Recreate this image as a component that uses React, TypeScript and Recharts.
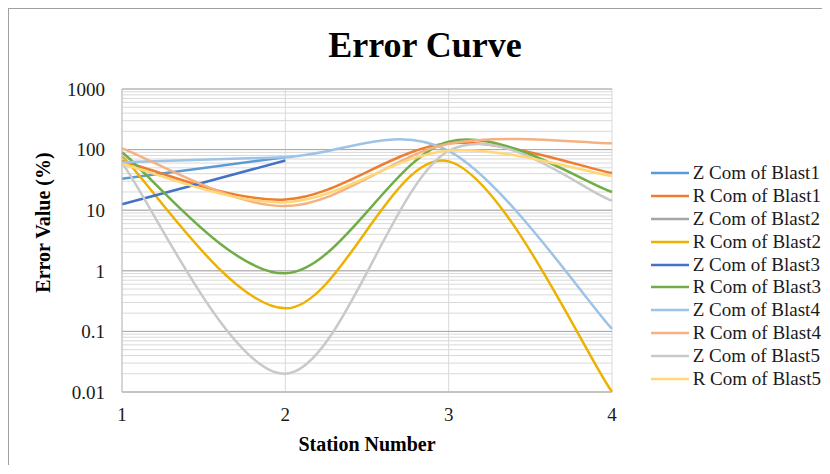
import React from 'react';
import {
  LineChart,
  Line,
  XAxis,
  YAxis,
  CartesianGrid,
  Legend,
  ReferenceLine,
  Label,
} from 'recharts';

const stations = [1, 2, 3, 4];
const zBlast1 = [33, 75, null, null];
const rBlast1 = [65, 15, 127, 41];
const zBlast2 = [null, null, null, null];
const rBlast2 = [78, 0.24, 64, 0.01];
const zBlast3 = [12.5, 66, null, null];
const rBlast3 = [90, 0.91, 135, 20];
const zBlast4 = [62, 75, 95, 0.11];
const rBlast4 = [105, 11.7, 125, 127];
const zBlast5 = [60, 0.02, 95, 14.4];
const rBlast5 = [58, 13.5, 96, 36.6];

const majorTicks = [0.01, 0.1, 1, 10, 100, 1000];
const allTicks = majorTicks.flatMap((m) =>
  m === 1000 ? [m] : [1, 2, 3, 4, 5, 6, 7, 8, 9].map((k) => k * m)
);

const series = [
  { key: 'z1', name: 'Z Com of Blast1', values: zBlast1, color: '#5B9BD5' },
  { key: 'r1', name: 'R Com of Blast1', values: rBlast1, color: '#ED7D31' },
  { key: 'z2', name: 'Z Com of Blast2', values: zBlast2, color: '#A5A5A5' },
  { key: 'r2', name: 'R Com of Blast2', values: rBlast2, color: '#EDB200' },
  { key: 'z3', name: 'Z Com of Blast3', values: zBlast3, color: '#4472C4' },
  { key: 'r3', name: 'R Com of Blast3', values: rBlast3, color: '#70AD47' },
  { key: 'z4', name: 'Z Com of Blast4', values: zBlast4, color: '#9DC3E6' },
  { key: 'r4', name: 'R Com of Blast4', values: rBlast4, color: '#F4B183' },
  { key: 'z5', name: 'Z Com of Blast5', values: zBlast5, color: '#C9C9C9' },
  { key: 'r5', name: 'R Com of Blast5', values: rBlast5, color: '#FFD777' },
];
const seriesOrder = series.map((s) => s.name);

const data = stations.map((s, i) => {
  const row: any = { station: s };
  series.forEach((ser) => {
    row[ser.key] = ser.values[i];
  });
  return row;
});

const FONT = 'Liberation Serif, Times New Roman, serif';

// excel-like smoothing (catmull-rom bezier)
const excelSmooth = (context: any) => {
  let pts: number[][] = [];
  return {
    areaStart() {},
    areaEnd() {},
    lineStart() {
      pts = [];
    },
    point(x: number, y: number) {
      pts.push([+x, +y]);
    },
    lineEnd() {
      const n = pts.length;
      if (!n) return;
      context.moveTo(pts[0][0], pts[0][1]);
      for (let i = 0; i < n - 1; i++) {
        const p0 = pts[Math.max(i - 1, 0)];
        const p1 = pts[i];
        const p2 = pts[i + 1];
        const p3 = pts[Math.min(i + 2, n - 1)];
        context.bezierCurveTo(
          p1[0] + (p2[0] - p0[0]) / 6,
          p1[1] + (p2[1] - p0[1]) / 6,
          p2[0] - (p3[0] - p1[0]) / 6,
          p2[1] - (p3[1] - p1[1]) / 6,
          p2[0],
          p2[1]
        );
      }
    },
  };
};

const renderLegend = (props: any) => {
  const items = [...(props.payload || [])].sort(
    (a: any, b: any) => seriesOrder.indexOf(a.value) - seriesOrder.indexOf(b.value)
  );
  return (
    <div style={{ fontFamily: FONT, fontSize: 19, color: '#1a1a1a' }}>
      {items.map((e: any) => (
        <div
          key={e.value}
          style={{ display: 'flex', alignItems: 'center', height: 22.9, whiteSpace: 'nowrap' }}
        >
          <svg width={38} height={4} style={{ display: 'block' }}>
            <line x1={0} y1={2} x2={38} y2={2} stroke={e.color} strokeWidth={2.5} />
          </svg>
          <span style={{ marginLeft: 4, fontFamily: FONT }}>{e.value}</span>
        </div>
      ))}
    </div>
  );
};

export default function App() {
  return (
    <div
      style={{
        position: 'relative',
        width: 816,
        height: 456,
        borderTop: '1px solid #a0a0a0',
        borderLeft: '1px solid #a0a0a0',
        borderRight: '1px solid #a0a0a0',
        overflow: 'hidden',
        background: '#fff',
      }}
    >
      <div
        style={{
          position: 'absolute',
          left: 416,
          top: 18,
          transform: 'translateX(-50%)',
          fontFamily: FONT,
          fontWeight: 'bold',
          fontSize: 36,
          lineHeight: '36px',
          whiteSpace: 'nowrap',
          color: '#000',
        }}
      >
        Error Curve
      </div>
      <LineChart
        width={816}
        height={456}
        data={data}
        margin={{ top: 80, right: 213, bottom: 13, left: 0 }}
      >
        <CartesianGrid stroke="#d9d9d9" />
        {majorTicks.map((v) => (
          <ReferenceLine key={v} y={v} stroke="#a6a6a6" />
        ))}
        <XAxis
          dataKey="station"
          type="number"
          domain={[1, 4]}
          ticks={stations}
          tickLine={false}
          axisLine={{ stroke: '#bfbfbf' }}
          tickSize={0}
          tickMargin={16}
          height={60}
          tick={{ fontSize: 19, fill: '#1a1a1a', fontFamily: FONT }}
        >
          <Label
            content={(p: any) => {
              const vb = p.viewBox;
              return (
                <text
                  x={vb.x + vb.width / 2}
                  y={vb.y + 52}
                  textAnchor="middle"
                  dominantBaseline="central"
                  fontFamily={FONT}
                  fontWeight="bold"
                  fontSize={20}
                  fill="#000"
                >
                  Station Number
                </text>
              );
            }}
          />
        </XAxis>
        <YAxis
          type="number"
          scale="log"
          domain={[0.01, 1000]}
          allowDataOverflow
          ticks={allTicks}
          interval={0}
          tickFormatter={(v: number) => (majorTicks.includes(v) ? String(v) : '')}
          tickLine={false}
          axisLine={{ stroke: '#bfbfbf' }}
          tickSize={0}
          tickMargin={17}
          width={113}
          tick={{ fontSize: 19, fill: '#1a1a1a', fontFamily: FONT }}
        >
          <Label
            content={(p: any) => {
              const vb = p.viewBox;
              const cx = vb.x + 34;
              const cy = vb.y + vb.height / 2 - 18;
              return (
                <text
                  x={cx}
                  y={cy}
                  transform={`rotate(-90, ${cx}, ${cy})`}
                  textAnchor="middle"
                  dominantBaseline="central"
                  fontFamily={FONT}
                  fontWeight="bold"
                  fontSize={20}
                  fill="#000"
                >
                  Error Value (%)
                </text>
              );
            }}
          />
        </YAxis>
        <Legend
          layout="vertical"
          align="center"
          verticalAlign="middle"
          wrapperStyle={{ left: 641.7, top: 152.5, width: 180 }}
          content={renderLegend}
        />
        {series.map((s) => (
          <Line
            key={s.key}
            dataKey={s.key}
            name={s.name}
            stroke={s.color}
            strokeWidth={2.5}
            type={excelSmooth as any}
            dot={false}
            activeDot={false}
            isAnimationActive={false}
          />
        ))}
      </LineChart>
    </div>
  );
}
